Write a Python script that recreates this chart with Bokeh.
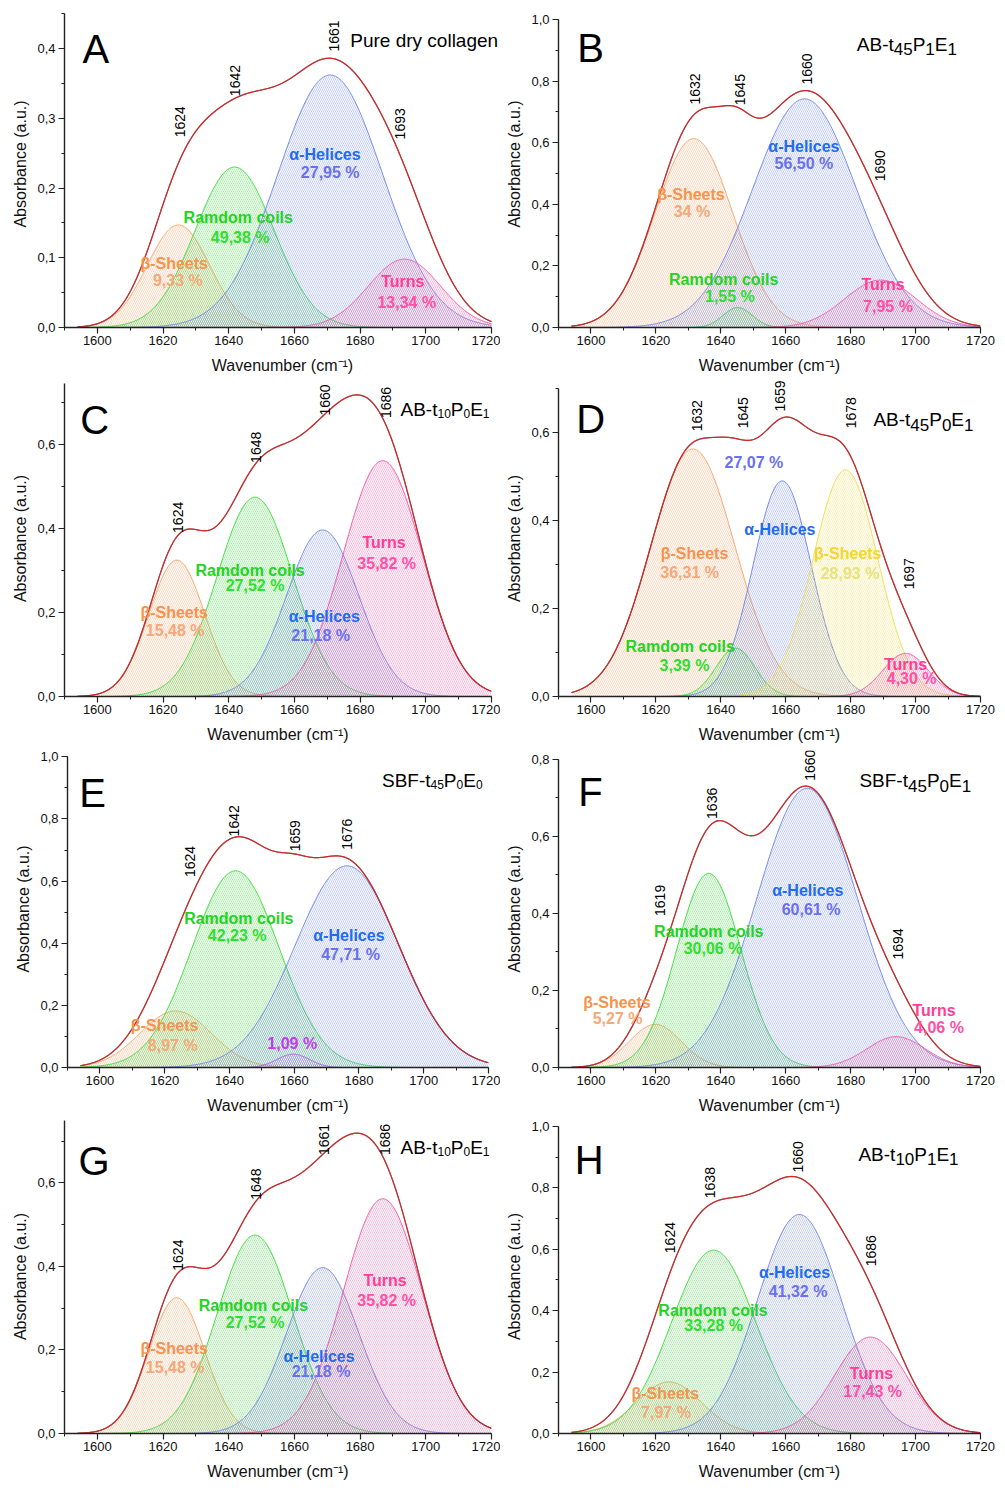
import numpy as np
from bokeh.plotting import figure
from bokeh.models import Range1d, FixedTicker, CustomJSTickFormatter
from bokeh.layouts import column, row
from bokeh.embed import file_html
from bokeh.resources import INLINE
from bokeh.core.properties import value

# ------------------------------------------------------------------ data
# component bands: centre (cm-1), height (a.u.), width (sigma, cm-1)
A_kinds = ["beta", "coil", "helix", "turn"]
A_centers = [1624.7, 1641.8, 1670.9, 1693.5]
A_heights = [0.147, 0.230, 0.362, 0.098]
A_sigmas = [9.5, 12.0, 16.0, 11.0]
A_percents = ["9,33 %", "49,38 %", "27,95 %", "13,34 %"]
A_marks = ["1624", "1642", "1661", "1693"]

B_kinds = ["beta", "coil", "helix", "turn"]
B_centers = [1631.7, 1645.2, 1665.8, 1689.2]
B_heights = [0.613, 0.065, 0.742, 0.154]
B_sigmas = [12.0, 4.5, 16.0, 11.0]
B_percents = ["34 %", "1,55 %", "56,50 %", "7,95 %"]
B_marks = ["1632", "1645", "1660", "1690"]

C_kinds = ["beta", "coil", "helix", "turn"]
C_centers = [1624.2, 1648.0, 1668.6, 1686.9]
C_heights = [0.325, 0.475, 0.397, 0.562]
C_sigmas = [8.5, 11.5, 11.0, 12.0]
C_percents = ["15,48 %", "27,52 %", "21,18 %", "35,82 %"]
C_marks = ["1624", "1648", "1660", "1686"]

D_kinds = ["beta", "coil", "helix", "beta2", "turn"]
D_centers = [1631.4, 1644.5, 1658.9, 1678.4, 1696.9]
D_heights = [0.5625, 0.110, 0.490, 0.515, 0.098]
D_sigmas = [13.0, 6.0, 9.0, 10.0, 7.0]
D_percents = ["36,31 %", "3,39 %", "27,07 %", "28,93 %", "4,30 %"]
D_marks = ["1632", "1645", "1659", "1678", "1697"]

E_kinds = ["beta", "coil", "other", "helix"]
E_centers = [1623.4, 1641.9, 1659.7, 1676.3]
E_heights = [0.182, 0.633, 0.043, 0.649]
E_sigmas = [11.0, 13.5, 5.0, 16.0]
E_percents = ["8,97 %", "42,23 %", "1,09 %", "47,71 %"]
E_marks = ["1624", "1642", "1659", "1676"]

F_kinds = ["beta", "coil", "helix", "turn"]
F_centers = [1619.8, 1636.3, 1666.6, 1694.0]
F_heights = [0.112, 0.504, 0.725, 0.080]
F_sigmas = [8.0, 9.9, 15.5, 9.0]
F_percents = ["5,27 %", "30,06 %", "60,61 %", "4,06 %"]
F_marks = ["1619", "1636", "1660", "1694"]

G_kinds = ["beta", "coil", "helix", "turn"]
G_centers = [1624.2, 1648.0, 1668.6, 1686.9]
G_heights = [0.325, 0.475, 0.397, 0.562]
G_sigmas = [8.5, 11.5, 11.0, 12.0]
G_percents = ["15,48 %", "27,52 %", "21,18 %", "35,82 %"]
G_marks = ["1624", "1648", "1661", "1686"]

H_kinds = ["beta", "coil", "helix", "turn"]
H_centers = [1624.0, 1637.8, 1664.2, 1686.1]
H_heights = [0.168, 0.597, 0.713, 0.314]
H_sigmas = [10.0, 13.0, 13.0, 11.0]
H_percents = ["7,97 %", "33,28 %", "41,32 %", "17,43 %"]
H_marks = ["1624", "1638", "1660", "1686"]

KIND_NAMES = {"beta": "β-Sheets", "coil": "Ramdom coils", "helix": "α-Helices",
              "turn": "Turns", "beta2": "β-Sheets", "other": None}

X_TICKS = [1600, 1620, 1640, 1660, 1680, 1700, 1720]
X_MINOR = [1590, 1600, 1610, 1620, 1630, 1640, 1650, 1660, 1670, 1680, 1690, 1700, 1710, 1720]
X_START, X_END = 1590, 1720
CURVE_START = 1594

# ------------------------------------------------------------------ styles
FONT = "Liberation Sans"
LINE_COL = {"beta": "#F4A46A", "coil": "#3ADB3A", "helix": "#6F86E8",
            "turn": "#EE55AA", "beta2": "#EEDD55", "other": "#C050EE"}
NAME_COL = {"beta": "#F7934C", "coil": "#22D422", "helix": "#1F6BEF",
            "turn": "#FF3E96", "beta2": "#F5D530", "other": "#C23BF0"}
PCT_COL = {"beta": "#F5A878", "coil": "#30DE30", "helix": "#6A70EE",
           "turn": "#FF4FA6", "beta2": "#E8E37A", "other": "#C23BF0"}

ADV = {"A": .667, "B": .667, "S": .667, "F": .611, "-": .333, "t": .278, "P": .667, "E": .667}

def seg_width(s, size):
    return sum(ADV.get(c, .556) for c in s) * size

PANELS = [
    dict(letter="A", kinds=A_kinds, centers=A_centers, heights=A_heights, sigmas=A_sigmas,
         percents=A_percents, marks=A_marks, extend=True,
         title=[("Pure dry collagen", False)], sub_size=17, sub_drop=5,
         width=500, row_h=380, left=64, right=9, bottom=53, ppu=697.5,
         ymax=0.45, ymaj=0.1, ymin=0.05,
         letter_xy=(1595.5, 0.399), title_xy=(1677.0, 0.412),
         mark_xy=[(1625.2, 0.295), (1641.9, 0.354), (1671.9, 0.418), (1692.2, 0.292)],
         name_xy=[(1623.4, 0.092), (1642.9, 0.157), (1669.3, 0.2475), (1693.0, 0.0655)],
         pct_xy=[(1624.5, 0.068), (1643.5, 0.129), (1670.9, 0.222), (1694.2, 0.036)]),
    dict(letter="B", kinds=B_kinds, centers=B_centers, heights=B_heights, sigmas=B_sigmas,
         percents=B_percents, marks=B_marks, extend=False,
         title=[("AB-t", False), ("45", True), ("P", False), ("1", True), ("E", False), ("1", True)],
         sub_size=17, sub_drop=5,
         width=505, row_h=380, left=58, right=25, bottom=51, ppu=310.0,
         ymax=1.0, ymaj=0.2, ymin=0.1,
         letter_xy=(1595.8, 0.906), title_xy=(1681.9, 0.919),
         mark_xy=[(1632.0, 0.774), (1645.8, 0.772), (1666.6, 0.839), (1689.0, 0.525)],
         name_xy=[(1630.8, 0.433), (1640.9, 0.157), (1665.6, 0.587), (1690.0, 0.138)],
         pct_xy=[(1631.1, 0.377), (1642.8, 0.102), (1665.6, 0.533), (1691.5, 0.068)]),
    dict(letter="C", kinds=C_kinds, centers=C_centers, heights=C_heights, sigmas=C_sigmas,
         percents=C_percents, marks=C_marks, extend=False,
         title=[("AB-t", False), ("10", True), ("P", False), ("0", True), ("E", False), ("1", True)],
         sub_size=12, sub_drop=4,
         width=500, row_h=370, left=64, right=9, bottom=54, ppu=419.5,
         ymax=0.745, ymaj=0.2, ymin=0.1,
         letter_xy=(1594.8, 0.660), title_xy=(1692.3, 0.683),
         mark_xy=[(1624.5, 0.427), (1648.3, 0.594), (1669.3, 0.707), (1687.8, 0.701)],
         name_xy=[(1623.4, 0.200), (1646.5, 0.300), (1669.1, 0.191), (1687.3, 0.366)],
         pct_xy=[(1623.7, 0.158), (1648.0, 0.264), (1668.0, 0.146), (1688.1, 0.318)]),
    dict(letter="D", kinds=D_kinds, centers=D_centers, heights=D_heights, sigmas=D_sigmas,
         percents=D_percents, marks=D_marks, extend=False,
         title=[("AB-t", False), ("45", True), ("P", False), ("0", True), ("E", False), ("1", True)],
         sub_size=17, sub_drop=5,
         width=505, row_h=370, left=58, right=25, bottom=52, ppu=442.8,
         ymax=0.70, ymaj=0.2, ymin=0.1,
         letter_xy=(1595.5, 0.630), title_xy=(1687.0, 0.6285),
         mark_xy=[(1632.7, 0.638), (1646.8, 0.645), (1658.2, 0.683), (1680.2, 0.645), (1697.9, 0.279)],
         name_xy=[(1631.9, 0.325), (1627.5, 0.113), (1658.2, 0.380), (1679.1, 0.325), (1696.9, 0.073)],
         pct_xy=[(1630.4, 0.281), (1628.8, 0.070), (1650.2, 0.531), (1679.8, 0.279), (1698.8, 0.040)]),
    dict(letter="E", kinds=E_kinds, centers=E_centers, heights=E_heights, sigmas=E_sigmas,
         percents=E_percents, marks=E_marks, extend=False,
         title=[("SBF-t", False), ("45", True), ("P", False), ("0", True), ("E", False), ("0", True)],
         sub_size=12, sub_drop=4,
         width=500, row_h=369, left=67, right=12, bottom=52, ppu=310.7,
         ymax=1.0, ymaj=0.2, ymin=0.1,
         letter_xy=(1593.6, 0.882), title_xy=(1687.1, 0.925),
         mark_xy=[(1627.7, 0.663), (1641.4, 0.794), (1660.4, 0.746), (1676.3, 0.751)],
         name_xy=[(1620.0, 0.134), (1642.9, 0.481), None, (1676.9, 0.426)],
         pct_xy=[(1622.5, 0.072), (1642.4, 0.424), (1659.4, 0.077), (1677.4, 0.365)]),
    dict(letter="F", kinds=F_kinds, centers=F_centers, heights=F_heights, sigmas=F_sigmas,
         percents=F_percents, marks=F_marks, extend=False,
         title=[("SBF-t", False), ("45", True), ("P", False), ("0", True), ("E", False), ("1", True)],
         sub_size=17, sub_drop=5,
         width=505, row_h=369, left=58, right=25, bottom=50, ppu=387.5,
         ymax=0.8, ymaj=0.2, ymin=0.1,
         letter_xy=(1596.1, 0.716), title_xy=(1682.7, 0.745),
         mark_xy=[(1621.2, 0.434), (1637.3, 0.686), (1667.4, 0.785), (1694.7, 0.321)],
         name_xy=[(1608.0, 0.169), (1636.3, 0.353), (1666.8, 0.459), (1705.7, 0.149)],
         pct_xy=[(1608.2, 0.126), (1637.6, 0.310), (1667.8, 0.411), (1707.2, 0.103)]),
    dict(letter="G", kinds=G_kinds, centers=G_centers, heights=G_heights, sigmas=G_sigmas,
         percents=G_percents, marks=G_marks, extend=False,
         title=[("AB-t", False), ("10", True), ("P", False), ("0", True), ("E", False), ("1", True)],
         sub_size=12, sub_drop=4,
         width=500, row_h=369, left=64, right=9, bottom=55, ppu=417.7,
         ymax=0.75, ymaj=0.2, ymin=0.1,
         letter_xy=(1594.3, 0.653), title_xy=(1692.3, 0.685),
         mark_xy=[(1624.5, 0.427), (1648.3, 0.597), (1669.0, 0.704), (1687.6, 0.704)],
         name_xy=[(1623.4, 0.203), (1647.5, 0.307), (1667.5, 0.185), (1687.6, 0.367)],
         pct_xy=[(1623.7, 0.158), (1648.0, 0.266), (1668.1, 0.148), (1688.1, 0.319)]),
    dict(letter="H", kinds=H_kinds, centers=H_centers, heights=H_heights, sigmas=H_sigmas,
         percents=H_percents, marks=H_marks, extend=False,
         title=[("AB-t", False), ("10", True), ("P", False), ("1", True), ("E", False), ("1", True)],
         sub_size=17, sub_drop=5,
         width=505, row_h=369, left=58, right=25, bottom=52, ppu=310.0,
         ymax=1.0, ymaj=0.2, ymin=0.1,
         letter_xy=(1595.0, 0.890), title_xy=(1682.4, 0.910),
         mark_xy=[(1624.3, 0.638), (1636.8, 0.817), (1663.7, 0.901), (1686.4, 0.595)],
         name_xy=[(1622.9, 0.129), (1637.6, 0.401), (1662.7, 0.523), (1686.4, 0.197)],
         pct_xy=[(1623.1, 0.068), (1637.8, 0.351), (1663.8, 0.462), (1686.8, 0.138)]),
]


def txt(p, x, y, s, size, color="black", bold=False, angle=0.0, align="center", baseline="middle"):
    p.text(x=[x], y=[y], text=[s], text_font=value(FONT), text_font_size=f"{size}px",
           text_font_style="bold" if bold else "normal", text_color=color, angle=angle,
           text_align=align, text_baseline=baseline)


def make_panel(cfg):
    w, h = cfg["width"], cfg["row_h"]
    frame_w = w - cfg["left"] - cfg["right"]
    frame_h = h - cfg["bottom"]
    ppx = frame_w / float(X_END - X_START)
    ppy = cfg["ppu"]
    y_end = frame_h / ppy
    if cfg["extend"]:
        x_end = X_END + cfg["right"] / ppx
        border_right = 0
    else:
        x_end = X_END
        border_right = cfg["right"]
    p = figure(width=w, height=h, x_range=Range1d(X_START, x_end), y_range=Range1d(0, y_end),
               output_backend="svg", toolbar_location=None,
               min_border_left=cfg["left"], min_border_right=border_right,
               min_border_top=0, min_border_bottom=cfg["bottom"])
    p.outline_line_color = None
    p.xgrid.grid_line_color = None
    p.ygrid.grid_line_color = None
    p.background_fill_color = "white"
    p.border_fill_color = "white"

    xa, ya = p.xaxis[0], p.yaxis[0]
    xa.ticker = FixedTicker(ticks=X_TICKS, minor_ticks=X_MINOR)
    nmaj = int(round(cfg["ymax"] / cfg["ymaj"] + 1e-6))
    nmin = int(round(cfg["ymax"] / cfg["ymin"] + 1e-6))
    ya.ticker = FixedTicker(ticks=[round(i * cfg["ymaj"], 3) for i in range(nmaj + 1)],
                            minor_ticks=[round(i * cfg["ymin"], 3) for i in range(nmin + 1)])
    ya.bounds = (0, cfg["ymax"])
    xa.bounds = (X_START, X_END)
    ya.formatter = CustomJSTickFormatter(code="return tick.toFixed(1).replace('.', ',');")
    xa.axis_label = "Wavenumber (cm⁻¹)"
    ya.axis_label = "Absorbance (a.u.)"
    for ax in (xa, ya):
        ax.axis_line_width = 1.4
        ax.axis_line_color = "#222222"
        ax.major_tick_out = 6
        ax.major_tick_in = 0
        ax.minor_tick_out = 3
        ax.minor_tick_in = 0
        ax.major_tick_line_width = 1.2
        ax.minor_tick_line_width = 1.0
        ax.major_tick_line_color = "#222222"
        ax.minor_tick_line_color = "#222222"
        ax.major_label_text_font = FONT
        ax.major_label_text_font_size = "13px"
        ax.major_label_text_color = "#111111"
        ax.axis_label_text_font = FONT
        ax.axis_label_text_font_size = "16px"
        ax.axis_label_text_font_style = "normal"
        ax.axis_label_text_color = "#111111"
    xa.major_label_standoff = 2
    xa.axis_label_standoff = 9
    ya.major_label_standoff = 3
    ya.axis_label_standoff = 5

    # component bands and their sum
    xs = np.arange(CURVE_START, X_END + 0.001, 0.25)
    total = np.zeros_like(xs)
    for k, c, hh, s in zip(cfg["kinds"], cfg["centers"], cfg["heights"], cfg["sigmas"]):
        g = hh * np.exp(-0.5 * ((xs - c) / s) ** 2)
        total += g
        col = LINE_COL[k]
        p.varea(x=xs, y1=np.zeros_like(xs), y2=g, fill_color=col, fill_alpha=0.0,
                hatch_pattern="left_diagonal_line", hatch_color=col, hatch_alpha=0.6,
                hatch_scale=4.0, hatch_weight=0.7)
        p.line(xs, g, line_color=col, line_width=1.0, line_alpha=0.95)
    p.line(xs, total, line_color="#222222", line_width=1.3, line_alpha=0.6)
    p.line(xs, total, line_color="#DD2222", line_width=1.1)

    # rotated band positions
    for m, (mx, my) in zip(cfg["marks"], cfg["mark_xy"]):
        txt(p, mx, my, m, 14, angle=np.pi / 2)

    # component names and percentages
    for k, pc, nxy, pxy in zip(cfg["kinds"], cfg["percents"], cfg["name_xy"], cfg["pct_xy"]):
        nm = KIND_NAMES[k]
        if nm is not None and nxy is not None:
            txt(p, nxy[0], nxy[1], nm, 16, color=NAME_COL[k], bold=True)
        txt(p, pxy[0], pxy[1], pc, 16, color=PCT_COL[k], bold=True)

    # panel letter
    lx, ly = cfg["letter_xy"]
    txt(p, lx, ly, cfg["letter"], 40, align="left", baseline="alphabetic")

    # sample name with subscripts
    tx, ty = cfg["title_xy"]
    for s, is_sub in cfg["title"]:
        size = cfg["sub_size"] if is_sub else 19
        yy = ty - (cfg["sub_drop"] / ppy if is_sub else 0.0)
        txt(p, tx, yy, s, size, align="left", baseline="alphabetic")
        tx += seg_width(s, size) / ppx
    return p


figs = [make_panel(c) for c in PANELS]
layout = column(row(figs[0], figs[1]), row(figs[2], figs[3]),
                row(figs[4], figs[5]), row(figs[6], figs[7]))

open("out.html", "w").write(file_html(layout, INLINE))
